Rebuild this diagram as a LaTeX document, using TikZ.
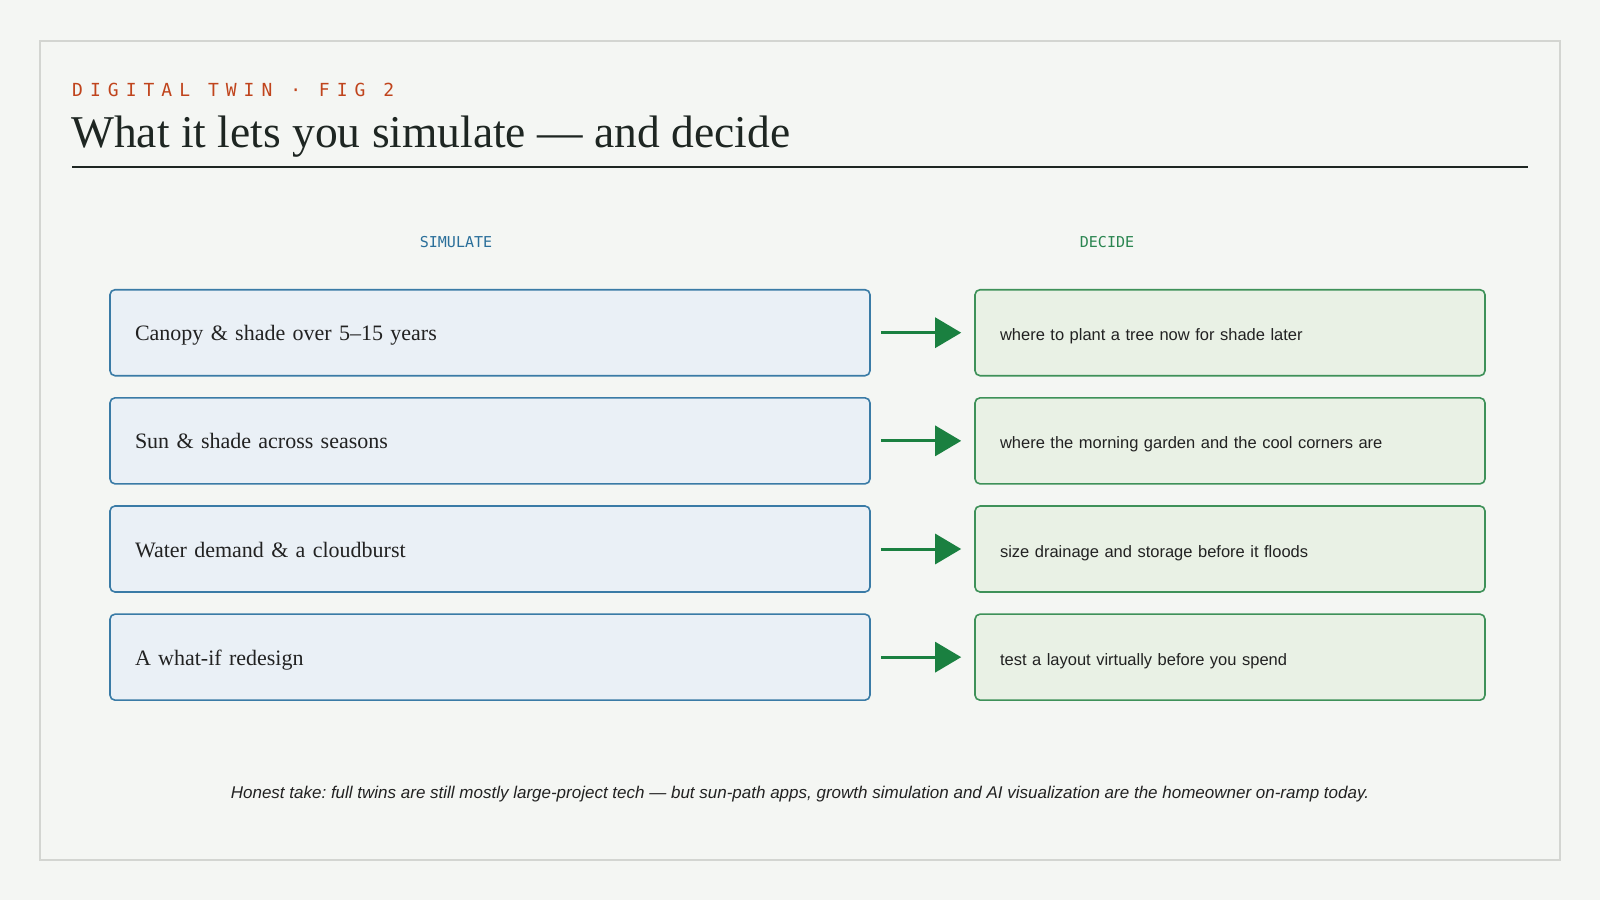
\documentclass[tikz,border=0pt]{standalone}
\usepackage{fontspec}
\setmainfont{Liberation Serif}
\newfontfamily\sansf{Liberation Sans}
\newfontfamily\monof{DejaVu Sans Mono}
\newfontfamily\kickf[LetterSpace=39]{DejaVu Sans Mono}
\usetikzlibrary{arrows.meta}
\definecolor{bg}{HTML}{F4F6F3}
\definecolor{frame}{HTML}{D3D5D1}
\definecolor{ink}{HTML}{1E2622}
\definecolor{kick}{HTML}{C0441C}
\definecolor{simc}{HTML}{2A6F9A}
\definecolor{decc}{HTML}{2A8550}
\definecolor{lfill}{HTML}{EAF0F6}
\definecolor{ldraw}{HTML}{3A7BA6}
\definecolor{rfill}{HTML}{E9F1E5}
\definecolor{rdraw}{HTML}{3E9159}
\definecolor{arr}{HTML}{1A8040}
\definecolor{body}{HTML}{222222}
\frenchspacing
\begin{document}
\begin{tikzpicture}[x=1pt,y=-1pt,
  simbox/.style={draw=ldraw,fill=lfill,line width=1.6pt,rounded corners=5pt,
    minimum height=86pt,inner xsep=25pt,text width=710pt,align=left,
    text height=16pt,text depth=0pt,
    font=\fontsize{22}{26}\selectfont,text=body},
  decbox/.style={draw=rdraw,fill=rfill,line width=1.6pt,rounded corners=5pt,
    minimum height=86pt,inner xsep=25pt,text width=460pt,align=left,
    text height=16pt,text depth=0pt,
    font=\sansf\fontsize{16.5}{20}\selectfont,text=body},
  flow/.style={draw=arr,line width=3pt,-{Triangle[length=26pt,width=30pt]}},
  collabel/.style={font=\monof\fontsize{15}{18}\selectfont}
]
\fill[bg] (0,0) rectangle (1600,900);
\useasboundingbox (0,0) rectangle (1600,900);
\draw[frame,line width=1.5pt] (40,41) rectangle (1560,860);
\node[anchor=base west,inner sep=0,text=kick,font=\kickf\fontsize{18}{20}\selectfont] (kicker) at (72,96) {DIGITAL TWIN · FIG 2};
\node[anchor=base west,inner sep=0,text=ink,font=\fontsize{45.5}{50}\selectfont] (title) at (71,147) {What it lets you simulate — and decide};
\coordinate (rl) at (72,167);
\coordinate (rr) at (1528,167);
\draw[ink,line width=2pt] (rl) -- (rr);
\node[collabel,text=simc] (simlab) at (456,242) {SIMULATE};
\node[collabel,text=decc] (declab) at (1107,242) {DECIDE};
\foreach \i/\s/\d in {1/{Canopy \& shade over 5–15 years}/{where to plant a tree now for shade later},
  2/{Sun \& shade across seasons}/{where the morning garden and the cool corners are},
  3/{Water demand \& a cloudburst}/{size drainage and storage before it floods},
  4/{A what-if redesign}/{test a layout virtually before you spend}}{
  \node[simbox] (s\i) at (490,{332.7+(\i-1)*108.15}) {\s};
  \node[decbox] (d\i) at (1230,{332.7+(\i-1)*108.15}) {\d};
  \draw[flow] ([xshift=10pt]s\i.east) -- ([xshift=-13pt]d\i.west);
}
\node[text=body,font=\sansf\itshape\fontsize{17}{20}\selectfont] (foot) at (800,794) {Honest take: full twins are still mostly large-project tech — but sun-path apps, growth simulation and AI visualization are the homeowner on-ramp today.};
\end{tikzpicture}
\end{document}
